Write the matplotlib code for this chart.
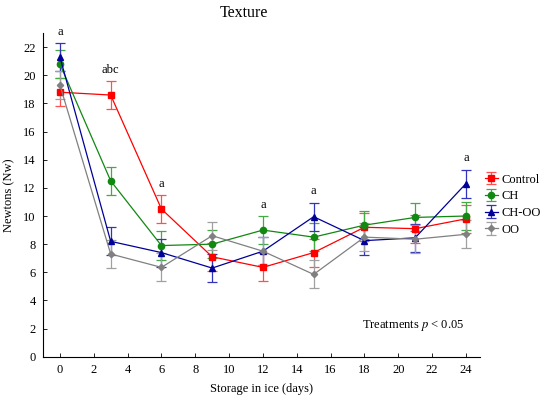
import matplotlib
matplotlib.use('Agg')
import matplotlib.pyplot as plt
import numpy as np

plt.rcParams['font.family'] = ['Liberation Serif', 'DejaVu Serif']
plt.rcParams['font.size'] = 9
plt.rcParams['mathtext.fontset'] = 'stix'

days = [0, 3, 6, 9, 12, 15, 18, 21, 24]
control = [18.8, 18.6, 10.5, 7.1, 6.35, 7.4, 9.2, 9.1, 9.8]
ch = [20.8, 12.5, 7.9, 8.0, 9.0, 8.5, 9.35, 9.9, 10.0]
choo = [21.3, 8.2, 7.4, 6.3, 7.5, 9.95, 8.25, 8.45, 12.3]
oo = [19.3, 7.3, 6.35, 8.6, 7.5, 5.85, 8.5, 8.35, 8.7]
err = 1.0

# significance letters (day index -> letter)
letters = {0: 'a', 1: 'abc', 2: 'a', 4: 'a', 5: 'a', 8: 'a'}

series = [
    ('Control', control, '#ff0000', '#ff5050', 's', 4.5),
    ('CH', ch, '#118811', '#44aa44', 'o', 4.5),
    ('CH-OO', choo, '#000099', '#3333bb', '^', 4.5),
    ('OO', oo, '#808080', '#a0a0a0', 'D', 3.2),
]

fig = plt.figure(figsize=(5.5, 4.07), dpi=100)
ax = fig.add_axes([0.0776, 0.1236, 0.795, 0.795])

for name, vals, col, ecol, mk, ms in series:
    ax.errorbar(days, vals, yerr=err, color=col, ecolor=ecol, marker=mk,
                markersize=ms, linewidth=0.9, elinewidth=0.9, capsize=3.5,
                capthick=0.9, label=name)

tops = np.max(np.array([control, ch, choo, oo]), axis=0) + err
for i, txt in letters.items():
    ax.text(days[i], tops[i] + 0.8, txt, ha='center', va='center',
            fontsize=9, clip_on=False)

ax.text(23.9, 2.2, 'Treatments $\\it{p}$ < 0.05', ha='right', va='center',
        fontsize=9)

ax.set_xlim(-1.02, 24.83)
ax.set_ylim(0, 23)
ax.set_xticks(range(0, 25, 2))
ax.set_yticks(range(0, 23, 2))
ax.tick_params(direction='in', length=3, width=0.6, pad=5, labelsize=9)
ax.spines['top'].set_visible(False)
ax.spines['right'].set_visible(False)
for s in ['left', 'bottom']:
    ax.spines[s].set_linewidth(0.8)

ax.set_xlabel('Storage in ice (days)', fontsize=9, labelpad=5)
ax.set_ylabel('Newtons (Nw)', fontsize=9, labelpad=6)
fig.text(0.444, 0.968, 'Texture', ha='center', va='center', fontsize=11.5)

ax.legend(loc='center left', bbox_to_anchor=(0.882, 0.497),
          bbox_transform=fig.transFigure, frameon=False, fontsize=9,
          handlelength=1.0, handletextpad=0.3, labelspacing=0.38,
          borderpad=0.0, borderaxespad=0.0)

fig.savefig('out.png', dpi=100)
